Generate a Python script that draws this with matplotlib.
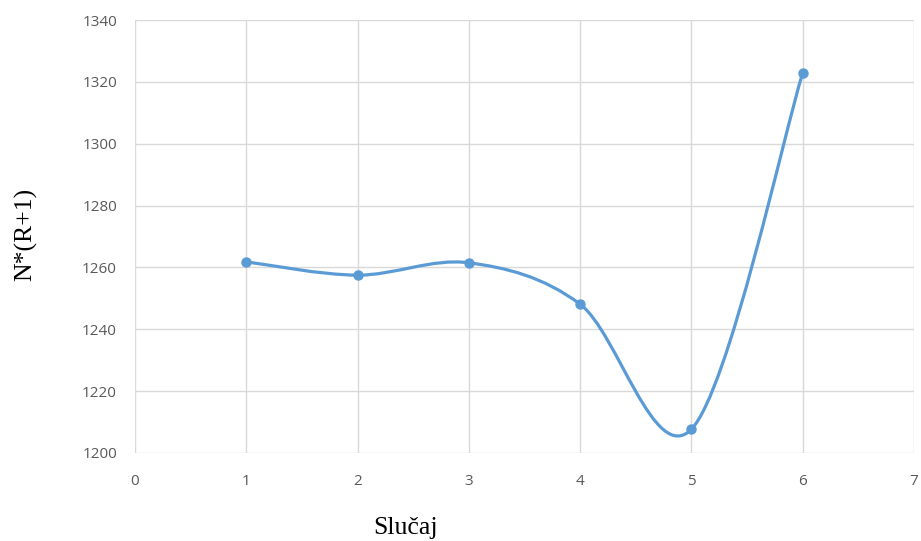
import numpy as np
import matplotlib
matplotlib.use('Agg')
import matplotlib.pyplot as plt
from matplotlib.path import Path
from matplotlib.patches import PathPatch

slucaj = [1, 2, 3, 4, 5, 6]
vrijednost = [1261.8, 1257.5, 1261.5, 1248.1, 1207.7, 1322.9]

col = '#5B9BD5'
plt.rcParams['font.family'] = ['Open Sans', 'DejaVu Sans']

fig = plt.figure(figsize=(9.21, 5.41), dpi=100)
ax = fig.add_axes([0.1466, 0.1627, 0.8458, 0.8003])

# smoothed line like excel (catmull-rom as bezier segments)
pts = np.column_stack([slucaj, vrijednost])
verts = [tuple(pts[0])]
codes = [Path.MOVETO]
n = len(pts)
for i in range(n - 1):
    p0 = pts[max(i - 1, 0)]
    p1 = pts[i]
    p2 = pts[i + 1]
    p3 = pts[min(i + 2, n - 1)]
    c1 = p1 + (p2 - p0) / 6.0
    c2 = p2 - (p3 - p1) / 6.0
    verts += [tuple(c1), tuple(c2), tuple(p2)]
    codes += [Path.CURVE4] * 3
ax.add_patch(PathPatch(Path(verts, codes), facecolor='none', edgecolor=col,
                       lw=2.3, capstyle='round', zorder=3))
ax.plot(slucaj, vrijednost, 'o', color=col, ms=6.5, zorder=4)

ax.set_xlim(0, 7)
ax.set_ylim(1200, 1340)
ax.set_xticks(range(0, 8))
ax.set_yticks(range(1200, 1341, 20))
ax.grid(True, color='#d9d9d9', lw=1)
ax.set_axisbelow(True)
for s in ax.spines.values():
    s.set_visible(False)
ax.tick_params(length=0, labelsize=11, colors='#595959')
ax.tick_params(axis='x', pad=15)
ax.tick_params(axis='y', pad=13)

fig.text(0.44, 0.024, 'Slučaj', family='Liberation Serif', fontsize=18.5,
         ha='center', va='center')
fig.text(0.028, 0.567, 'N*(R+1)', family='Liberation Serif', fontsize=18.5,
         ha='center', va='center', rotation=90)

fig.savefig('out.png', dpi=100)
